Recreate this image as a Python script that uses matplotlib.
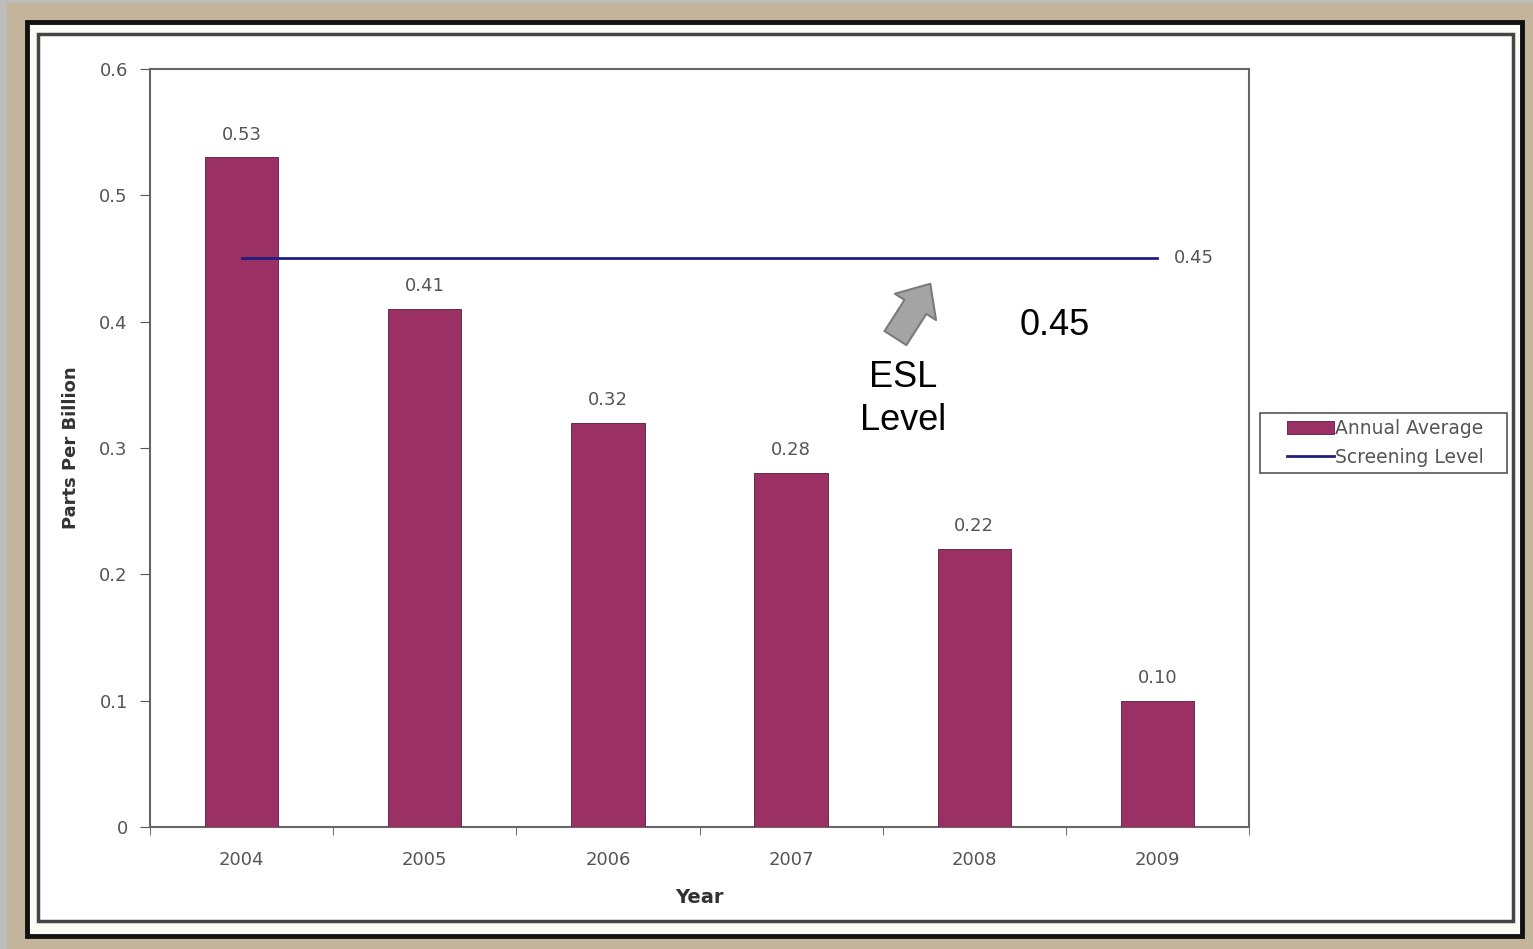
import matplotlib
matplotlib.use("Agg")
import matplotlib.pyplot as plt
from matplotlib.patches import Rectangle
import numpy as np

plt.rcParams['font.family'] = ['DejaVu Sans']

years = ["2004", "2005", "2006", "2007", "2008", "2009"]
annual_average = [0.53, 0.41, 0.32, 0.28, 0.22, 0.10]
screening_level = [0.45, 0.45, 0.45, 0.45, 0.45, 0.45]
y_ticks = [0, 0.1, 0.2, 0.3, 0.4, 0.5, 0.6]

W, H = 1533, 949
fig = plt.figure(figsize=(W / 100, H / 100), dpi=100)
fig.patch.set_facecolor("#BDBDBD")

def rect(x0, y0, x1, y1, fc="none", ec="none", lw=0, z=0):
    fig.patches.append(Rectangle((x0 / W, 1 - y1 / H), (x1 - x0) / W, (y1 - y0) / H,
                                 transform=fig.transFigure, facecolor=fc, edgecolor=ec,
                                 linewidth=lw, zorder=z))

# tan border
rect(7, 3, W, H, fc="#C3B59C")
# black frame
rect(27, 22, 1522, 936, fc="#FBFBF5", ec="#111111", lw=3.5, z=1)
# inner frame
rect(38, 34, 1513, 921, fc="white", ec="#444444", lw=2.5, z=2)
# legend box
rect(1260, 413, 1507, 473, fc="white", ec="#555555", lw=1.2, z=3)

ax = fig.add_axes([150 / W, 1 - 827 / H, (1249 - 150) / W, (827 - 69) / H])
ax.set_zorder(5)
ax.set_facecolor("none")

x = np.arange(len(years))
bar_color = "#9B3064"
bars = ax.bar(x, annual_average, width=0.4, color=bar_color, edgecolor="#5a1a3a",
              linewidth=0.6, label="Annual Average", zorder=3)
line, = ax.plot(x, screening_level, color="#1F1F80", linewidth=2, label="Screening Level", zorder=4)

for xi, v in zip(x, annual_average):
    ax.text(xi, v + 0.011, f"{v:.2f}", ha="center", va="bottom", fontsize=13, color="#555555")
ax.text(x[-1] + 0.09, screening_level[-1], f"{screening_level[-1]:.2f}", ha="left", va="center",
        fontsize=13, color="#555555")

ax.set_xlim(-0.5, len(years) - 0.5)
ax.set_ylim(0, 0.6)
ax.set_yticks(y_ticks)
ax.set_yticklabels(["0", "0.1", "0.2", "0.3", "0.4", "0.5", "0.6"])
ax.set_xticks(x)
ax.set_xticklabels(years)
ax.set_xticks(np.arange(len(years) + 1) - 0.5, minor=True)
ax.tick_params(axis="x", which="major", length=0, pad=17, labelsize=13, labelcolor="#555555")
ax.tick_params(axis="x", which="minor", length=6, direction="out", color="#555555")
ax.tick_params(axis="y", length=7, direction="out", color="#555555", labelsize=13,
               labelcolor="#555555", pad=9)
for s in ax.spines.values():
    s.set_color("#666666")
    s.set_linewidth(1.5)

ax.set_xlabel("Year", fontsize=14, fontweight="bold", color="#333333", labelpad=14)
ax.set_ylabel("Parts Per Billion", fontsize=13, fontweight="bold", color="#333333", labelpad=14)

# annotations
ax.annotate("", xy=(3.76, 0.43), xytext=(3.57, 0.387),
            arrowprops=dict(arrowstyle="simple,head_length=0.9,head_width=1.6,tail_width=0.85",
                            mutation_scale=22, facecolor="#A4A4A4", edgecolor="#7A7A7A",
                            linewidth=1.5, shrinkA=0, shrinkB=0), zorder=6)
ax.text(3.61, 0.339, "ESL\nLevel", ha="center", va="center", fontsize=26, color="black",
        linespacing=1.3, family="Liberation Sans")
ax.text(4.44, 0.397, "0.45", ha="center", va="center", fontsize=26, color="black",
        family="Liberation Sans")

leg = ax.legend([bars, line], ["Annual Average", "Screening Level"],
                loc="center left", bbox_to_anchor=(1287 / W, 1 - 443 / H),
                bbox_transform=fig.transFigure, frameon=False,
                fontsize=13.5, handlelength=2.5, handletextpad=0.05, borderpad=0,
                labelspacing=0.5, borderaxespad=0)
for t in leg.get_texts():
    t.set_color("#555555")

fig.savefig("out.png", dpi=100)
